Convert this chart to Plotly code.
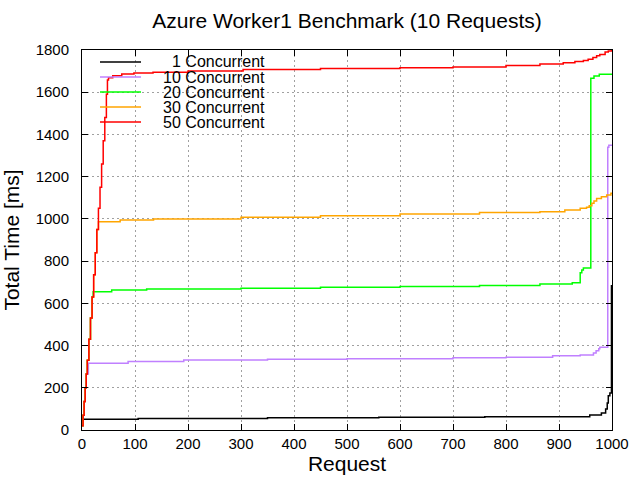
import plotly.graph_objects as go

# ---- data ----
series_names = ["1 Concurrent", "10 Concurrent", "20 Concurrent", "30 Concurrent", "50 Concurrent"]
series_colors = ["#000000", "#c080ff", "#00ff00", "#ffa500", "#ff0000"]

ramp_x = [0, 2, 4, 6, 8, 10, 13, 16, 19, 22, 25, 28, 31, 34, 37, 40, 43, 46]
ramp_y = [20, 70, 135, 200, 265, 330, 430, 530, 630, 735, 840, 950, 1050, 1150, 1260, 1370, 1480, 1590]

x1 = [0, 2, 106, 350, 560, 760, 958, 980, 988, 991, 993, 996, 999]
y1 = [45, 51, 55, 58, 60, 63, 71, 80, 100, 128, 162, 175, 687]

x10 = [0, 2, 4, 6, 8, 12, 87, 192, 350, 500, 700, 800, 888, 940, 965, 970, 975, 977, 992, 994, 1000]
y10 = [20, 70, 135, 200, 265, 316, 324, 332, 335, 338, 342, 345, 352, 355, 365, 375, 385, 392, 1339, 1349, 1349]

x20 = [0, 2, 4, 6, 8, 10, 13, 16, 19, 21, 56, 122, 300, 450, 600, 750, 864, 925, 940, 943, 946, 960, 966, 976, 1000]
y20 = [20, 70, 135, 200, 265, 330, 430, 530, 630, 655, 663, 668, 672, 676, 680, 685, 691, 698, 745, 758, 767, 1666, 1677, 1685, 1685]

x30 = [0, 2, 4, 6, 8, 10, 13, 16, 19, 22, 25, 28, 31, 72, 135, 300, 450, 600, 750, 864, 911, 940, 952, 957, 962, 966, 971, 980, 990, 998, 1000]
y30 = [20, 70, 135, 200, 265, 330, 430, 530, 630, 735, 840, 950, 987, 995, 999, 1008, 1015, 1023, 1030, 1034, 1042, 1050, 1055, 1062, 1074, 1085, 1097, 1105, 1113, 1121, 1121]

x50 = ramp_x + [48, 50, 58, 75, 98, 134, 200, 304, 450, 600, 700, 800, 864, 908, 930, 946, 955, 964, 971, 977, 987, 993, 999]
y50 = ramp_y + [1658, 1669, 1678, 1686, 1691, 1695, 1701, 1708, 1712, 1716, 1720, 1727, 1734, 1740, 1745, 1750, 1756, 1764, 1773, 1779, 1791, 1795, 1800]

xs = [x1, x10, x20, x30, x50]
ys = [y1, y10, y20, y30, y50]

x_ticks = list(range(0, 1001, 100))
y_ticks = list(range(0, 1801, 200))

FONT = "Liberation Sans, Arial, sans-serif"

FIG_W, FIG_H = 640, 480

fig = go.Figure()
for name, col, xv, yv in zip(series_names, series_colors, xs, ys):
    fig.add_trace(go.Scatter(x=xv, y=yv, mode="lines", name=name,
                             line=dict(color=col, width=1.5, shape="hv"),
                             showlegend=False))

# ---- key (drawn like gnuplot: right-aligned text, tight rows) ----
W, H = 530.0, 380.0  # plot area size in px
def px(xp):
    return (xp - 82) / W
def py(yp):
    return (430 - yp) / H

shapes = [dict(type="rect", xref="paper", yref="paper",
               x0=px(88), x1=px(272), y0=py(131), y1=py(52),
               fillcolor="white", line=dict(width=0), layer="between")]
annotations = []
row_y = [62, 77, 92, 107, 122]
for name, col, ry in zip(series_names, series_colors, row_y):
    shapes.append(dict(type="line", xref="paper", yref="paper",
                       x0=px(100), x1=px(141), y0=py(ry), y1=py(ry),
                       line=dict(color=col, width=1.5), layer="above"))
    annotations.append(dict(text=name, xref="paper", yref="paper",
                            x=px(267), y=py(ry), xanchor="right", yanchor="middle",
                            showarrow=False, font=dict(family=FONT, size=16, color="black")))

fig.update_layout(
    width=FIG_W, height=FIG_H,
    margin=dict(l=82, r=28, t=50, b=50, pad=0),
    paper_bgcolor="white", plot_bgcolor="white",
    font=dict(family=FONT, color="black"),
    title=dict(text="Azure Worker1 Benchmark (10 Requests)", x=347 / FIG_W, xanchor="center",
               y=1 - 21 / FIG_H, yanchor="middle", yref="container",
               font=dict(family=FONT, size=21, color="black")),
    shapes=shapes, annotations=annotations,
    showlegend=False,
)

axis_common = dict(showline=True, linecolor="black", linewidth=1, mirror="ticks",
                   ticks="inside", ticklen=6, tickcolor="black", tickwidth=1,
                   showgrid=True, gridcolor="#a0a0a0", griddash="2px,3px", gridwidth=1,
                   zeroline=False, tickfont=dict(family=FONT, size=15, color="black"))

fig.update_xaxes(range=[0, 1000], tickvals=x_ticks, ticktext=[str(v) for v in x_ticks],
                 title=dict(text="Request", font=dict(family=FONT, size=21), standoff=3),
                 ticklabelstandoff=0, automargin=False, **axis_common)
fig.update_yaxes(range=[0, 1800], tickvals=y_ticks, ticktext=[str(v) for v in y_ticks],
                 title=dict(text="Total Time [ms]", font=dict(family=FONT, size=21), standoff=21),
                 ticklabelstandoff=9, automargin=False, **axis_common)

# remove the browser's default page margin so the 640x480 figure fills the window
fig.write_html("out.html", config={"displayModeBar": False},
               post_script="document.body.style.margin='0';document.body.style.overflow='hidden';")
